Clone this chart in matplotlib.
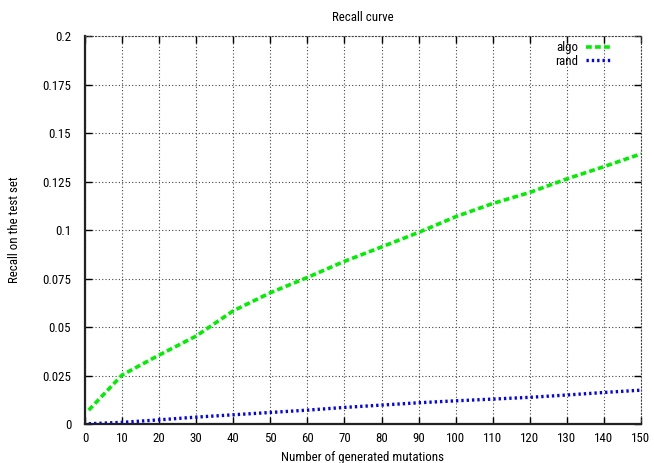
import matplotlib.pyplot as plt

plt.rcParams["font.family"] = ["Roboto Condensed", "Liberation Sans", "DejaVu Sans"]

mutations = [1, 10, 20, 30, 40, 50, 60, 70, 80, 90, 100, 110, 120, 130, 140, 150]
algo = [0.0072, 0.0253, 0.0356, 0.0454, 0.0584, 0.0677, 0.0756, 0.0839, 0.0913,
        0.0988, 0.1069, 0.1137, 0.1194, 0.1264, 0.1327, 0.1393]
rand = [0.0002, 0.0009, 0.0022, 0.0036, 0.0048, 0.0060, 0.0072, 0.0086, 0.0098,
        0.0110, 0.0120, 0.0129, 0.0138, 0.0150, 0.0163, 0.0175]

xticks = list(range(0, 151, 10))
yticks = [0, 0.025, 0.05, 0.075, 0.1, 0.125, 0.15, 0.175, 0.2]
ytick_labels = ["0", "0.025", "0.05", "0.075", "0.1", "0.125", "0.15", "0.175", "0.2"]

fig = plt.figure(figsize=(6.54, 4.63), dpi=100)
ax = fig.add_axes([0.130, 0.084, 0.850, 0.838])

ax.plot(mutations, algo, color="#00ee00", linewidth=2.6, linestyle=(0, (1.6, 0.9)),
        label="algo")
ax.plot(mutations, rand, color="#0000ff", linewidth=2.4, linestyle=(0, (0.7, 0.9)),
        label="rand")

ax.set_xlim(0, 150)
ax.set_ylim(0, 0.2)
ax.set_xticks(xticks)
ax.set_yticks(yticks)
ax.set_yticklabels(ytick_labels)
ax.tick_params(direction="in", length=5, width=1.0, labelsize=9.3, colors="black",
               top=True, right=True)
ax.tick_params(axis="y", pad=10)
ax.tick_params(axis="x", pad=6)
ax.grid(True, color="#444444", linestyle=(0, (1, 2)), linewidth=0.8)

for side in ("left", "bottom"):
    ax.spines[side].set_linewidth(1.6)
    ax.spines[side].set_color("#222222")
for side in ("top", "right"):
    ax.spines[side].set_linestyle((0, (1, 2)))
    ax.spines[side].set_linewidth(0.8)
    ax.spines[side].set_color("#444444")

ax.set_title("Recall curve", fontsize=9.3, pad=11)
ax.set_xlabel("Number of generated mutations", fontsize=9.3, labelpad=4)
ax.set_ylabel("Recall on the test set", fontsize=9.3, labelpad=15)

ax.legend(loc="upper right", bbox_to_anchor=(0.955, 1.0), frameon=False,
          markerfirst=False, fontsize=9.3, handlelength=1.9, handletextpad=0.6,
          labelspacing=0.05, borderaxespad=0.0)

fig.savefig("out.png", dpi=100)
plt.close(fig)
